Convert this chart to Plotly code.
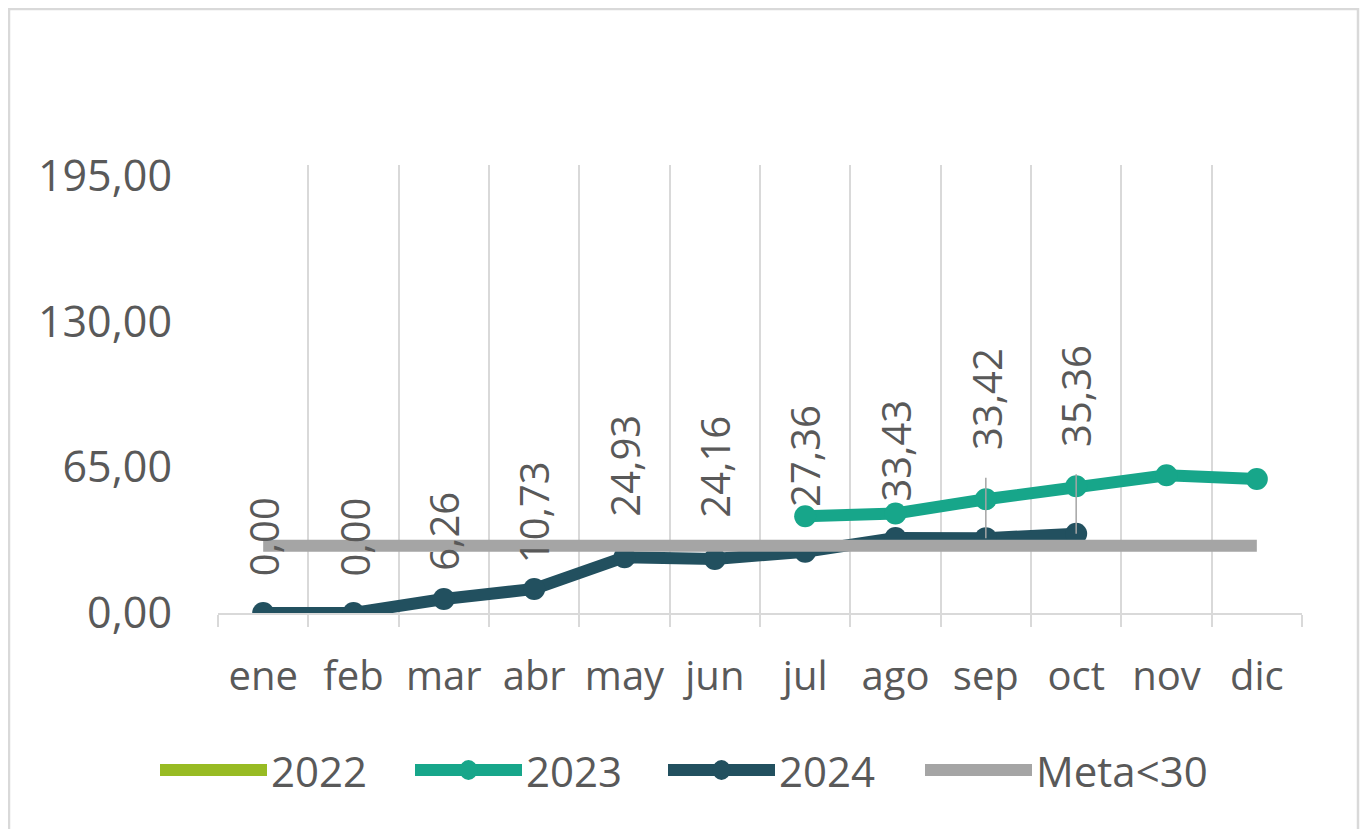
import plotly.graph_objects as go

# ---------------- data ----------------
months = ["ene", "feb", "mar", "abr", "may", "jun", "jul", "ago", "sep", "oct", "nov", "dic"]
values_2022 = [None] * 12
values_2023 = [None, None, None, None, None, None, 43.2, 44.4, 50.8, 56.6, 61.5, 59.8]
values_2024 = [0.00, 0.00, 6.26, 10.73, 24.93, 24.16, 27.36, 33.43, 33.42, 35.36, None, None]
meta = [30, 30, 30, 30, 30, 30, 30, 30, 30, 30, 30, 30]
y_ticks = [0, 65, 130, 195]
series_names = ["2022", "2023", "2024", "Meta<30"]

# label placement (pixels above the point) and leader-line flags
label_shift = [76, 76, 68, 77, 91, 92, 96, 87, 139, 138]
label_leader = [False, False, False, False, False, False, False, False, True, True]

# ---------------- style ----------------
C2022 = "#98BB23"
C2023 = "#17A68A"
C2024 = "#22505F"
CMETA = "#A5A5A5"
GRID = "#D9D9D9"
TXT = "#595959"
FONT = "Open Sans"
series_colors = [C2022, C2023, C2024, CMETA]
series_markers = [False, True, True, False]

# the page body has an 8px margin: figure pixel = screen pixel - 8
OFF = 8
W, H = 1360, 821
ML, MR, MT, MB = 210, 66, 157, 216
PW, PH = W - ML - MR, H - MT - MB

# custom legend layout (screen px)
leg_x0 = [160, 415, 668, 925]
leg_len = 107
leg_y = 770

x_idx = list(range(len(months)))
bounds = [i - 0.5 for i in range(len(months) + 1)]


def pxx(px):
    """screen x pixel -> paper coordinate"""
    return (px - OFF - ML) / PW


def pxy(py):
    """screen y pixel -> paper coordinate"""
    return (H - MB - (py - OFF)) / PH


fig = go.Figure()

fig.add_trace(go.Scatter(x=x_idx, y=values_2022, name=series_names[0], mode="lines",
                         line=dict(color=C2022, width=12)))
fig.add_trace(go.Scatter(x=x_idx, y=values_2023, name=series_names[1], mode="lines+markers",
                         line=dict(color=C2023, width=12),
                         marker=dict(color=C2023, size=22)))
fig.add_trace(go.Scatter(x=x_idx, y=values_2024, name=series_names[2], mode="lines+markers",
                         line=dict(color=C2024, width=12),
                         marker=dict(color=C2024, size=22)))
fig.add_trace(go.Scatter(x=x_idx, y=meta, name=series_names[3], mode="lines",
                         line=dict(color=CMETA, width=12)))

# data labels for 2024 (rotated, placed above the points)
for i, v in enumerate(values_2024):
    if v is None:
        continue
    lead = label_leader[i]
    fig.add_annotation(
        x=i, y=v, xref="x", yref="y",
        text=f"{v:.2f}".replace(".", ","),
        textangle=-90,
        font=dict(family=FONT, size=40, color=TXT),
        showarrow=True, ax=0, ay=-label_shift[i],
        arrowhead=0, arrowwidth=1.5,
        arrowcolor=CMETA if lead else "rgba(0,0,0,0)",
        startstandoff=26 if lead else 0,
        xanchor="center", yanchor="middle",
    )

# legend drawn as layout shapes + text
for k, name in enumerate(series_names):
    x0 = leg_x0[k]
    fig.add_shape(type="line", xref="paper", yref="paper",
                  x0=pxx(x0), x1=pxx(x0 + leg_len), y0=pxy(leg_y), y1=pxy(leg_y),
                  line=dict(color=series_colors[k], width=12))
    if series_markers[k]:
        xm = x0 + leg_len / 2
        fig.add_shape(type="circle", xref="paper", yref="paper",
                      x0=pxx(xm - 9), x1=pxx(xm + 9), y0=pxy(leg_y + 10), y1=pxy(leg_y - 10),
                      line=dict(width=0), fillcolor=series_colors[k])
    fig.add_annotation(xref="paper", yref="paper", x=pxx(x0 + leg_len + 2), y=pxy(leg_y),
                       text=name, showarrow=False, xanchor="left", yanchor="middle",
                       font=dict(family=FONT, size=42, color=TXT))

# chart-area border
fig.add_shape(type="rect", xref="paper", yref="paper",
              x0=pxx(OFF + 1), x1=pxx(1358),
              y0=pxy(845), y1=pxy(OFF + 1),
              line=dict(color=GRID, width=2.5), fillcolor="rgba(0,0,0,0)", layer="below")

fig.update_layout(
    width=W, height=H,
    margin=dict(l=ML, r=MR, t=MT, b=MB, pad=0),
    paper_bgcolor="white", plot_bgcolor="white",
    separators=",.",
    font=dict(family=FONT, color=TXT, size=40),
    showlegend=False,
    xaxis=dict(range=[-0.5, 11.5], tickmode="array", tickvals=bounds,
               showticklabels=False, showgrid=True, gridcolor=GRID, gridwidth=2,
               ticks="outside", ticklen=12, tickwidth=2, tickcolor=GRID,
               showline=True, linecolor=GRID, linewidth=2, zeroline=False,
               fixedrange=True),
    xaxis2=dict(range=[-0.5, 11.5], overlaying="x", anchor="y", side="bottom",
                tickmode="array", tickvals=x_idx, ticktext=months,
                showgrid=False, zeroline=False, showline=False, ticks="",
                ticklabelstandoff=36,
                tickfont=dict(family=FONT, size=40, color=TXT)),
    yaxis=dict(range=[0, 200], tickmode="array", tickvals=y_ticks,
               tickformat=".2f", showgrid=False, zeroline=False, showline=False,
               ticks="", ticklabelstandoff=45,
               tickfont=dict(family=FONT, size=43, color=TXT)),
)

# invisible trace to activate xaxis2
fig.add_trace(go.Scatter(x=x_idx, y=[None] * 12, xaxis="x2", yaxis="y",
                         showlegend=False, hoverinfo="skip"))

fig.write_html("out.html")
